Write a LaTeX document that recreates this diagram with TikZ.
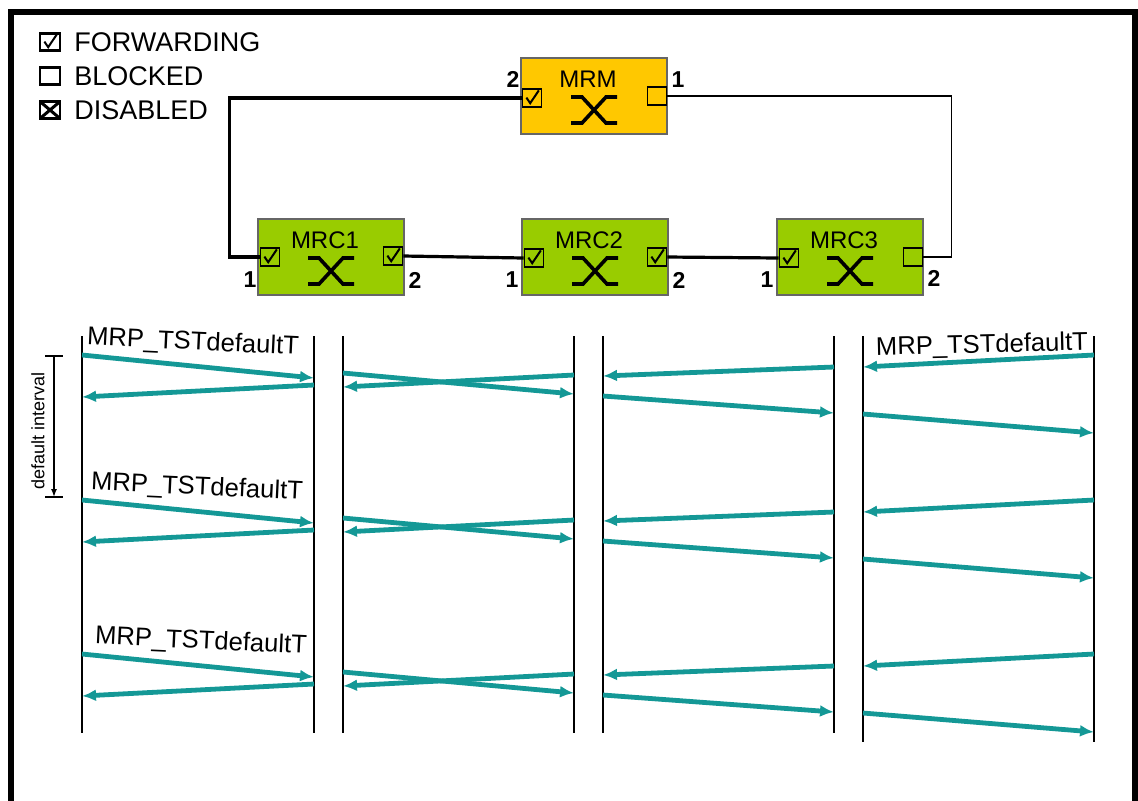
\documentclass[tikz,border=0pt]{standalone}
\usepackage{fontspec}
\setmainfont{Liberation Sans}
\usetikzlibrary{arrows.meta, positioning, calc}
\definecolor{kuningmrm}{RGB}{255,200,0}
\definecolor{hijaumrc}{RGB}{153,204,0}
\definecolor{tosca}{RGB}{20,152,150}

\begin{document}
\begin{tikzpicture}[x=0.5pt, y=-0.5pt,
        every node/.style={font=\fontsize{12}{13}\selectfont},
        sakelar/.style={rectangle, draw=black!60, line width=0.6pt,
                    minimum width=73pt, minimum height=38pt, inner sep=0pt},
        port/.style={rectangle, draw=black, line width=0.9pt,
                    minimum width=9.5pt, minimum height=9pt, inner sep=0pt},
        fwd/.style={port, path picture={
            \draw[line width=1pt]
                 ([shift={(-2.8pt,0.2pt)}]path picture bounding box.center)
              -- ([shift={(-0.9pt,-2.6pt)}]path picture bounding box.center)
              -- ([shift={(3.4pt,3.8pt)}]path picture bounding box.center);}},
        dis/.style={port, path picture={
            \draw[line width=1.5pt]
                 (path picture bounding box.north west) -- (path picture bounding box.south east)
                 (path picture bounding box.north east) -- (path picture bounding box.south west);}},
        nomor/.style={font=\fontsize{11.5}{12}\selectfont\bfseries},
        legenda/.style={font=\fontsize{13.5}{15}\selectfont},
        cincin/.style={line width=1.6pt},
        tipis/.style={line width=0.75pt},
        hidup/.style={line width=0.7pt},
        pesan/.style={-{Latex[length=7pt,width=6pt]}, line width=2.4pt, tosca},
        tst/.style={font=\fontsize{12.8}{14}\selectfont},
        silang/.pic={\draw[line width=1.8pt] (-23,-13) -- (-12,-13) -- (12,13) -- (23,13)
                                              (-23,13) -- (-12,13) -- (12,-13) -- (23,-13);}
    ]
    \useasboundingbox (0,0) rectangle (1138,800);
    \draw[line width=2.6pt] (11,12) rectangle (1135,840);
    \draw[line width=3.2pt] (10,12) -- (1136,12);

    % legend
    \node[fwd, line width=1.2pt, minimum width=10pt, minimum height=8.5pt] (ikfwd) at (50,42) {};
    \node[legenda, right=3pt of ikfwd] (tfwd) {FORWARDING};
    \node[port, line width=1.2pt, minimum width=10pt, minimum height=8.5pt] (ikblk) at (50,76) {};
    \node[legenda, right=3pt of ikblk] (tblk) {BLOCKED};
    \node[dis, line width=1.2pt, minimum width=10pt, minimum height=8.5pt] (ikdis) at (50,110) {};
    \node[legenda, right=3pt of ikdis] (tdis) {DISABLED};

    % ring
    \node[sakelar, fill=kuningmrm] (mrm)  at (594,96)  {};
    \node[sakelar, fill=hijaumrc]  (mrc1) at (331,257) {};
    \node[sakelar, fill=hijaumrc]  (mrc2) at (595,257) {};
    \node[sakelar, fill=hijaumrc]  (mrc3) at (850,257) {};
    \foreach \s/\t in {mrm/MRM, mrc1/MRC1, mrc2/MRC2, mrc3/MRC3} {
        \node (t\s) at ([shift={(-3pt,8.5pt)}]\s.center) {\t};
        \pic at ([yshift=-7pt]\s.center) {silang};
    }
    \node[fwd]  (mrm2)  at (532,98)  {};
    \node[port] (mrm1)  at (657,96)  {};
    \node[fwd]  (mrc11) at (270,257) {};
    \node[fwd]  (mrc12) at (393,256) {};
    \node[fwd]  (mrc21) at (534,258) {};
    \node[fwd]  (mrc22) at (657,257) {};
    \node[fwd]  (mrc31) at (789,258) {};
    \node[port] (mrc32) at (913,257) {};
    \foreach \p/\n/\x/\y in {mrm2/2/513/79, mrm1/1/678/80, mrc11/1/250/280, mrc12/2/415/280,
                             mrc21/1/512/280, mrc22/2/679/280, mrc31/1/767/280, mrc32/2/934/278}
        \node[nomor] (n\p) at (\x,\y) {\n};
    \draw[cincin] (mrm2.west) -| ([xshift=-15pt]mrc11.west) -- (mrc11.west);
    \draw[tipis]  (mrm1.east) -| ([xshift=14pt]mrc32.east) -- (mrc32.east);
    \draw[cincin] (mrc12.east) -- (mrc21.west);
    \draw[cincin] (mrc22.east) -- (mrc31.west);

    % test frames
    \foreach \i/\x/\b in {1/82/733, 2/314/733, 3/343/733, 4/574/733,
                          5/603/733, 6/834/733, 7/863/742, 8/1094/742} {
        \coordinate (h\i) at (\x,0);
        \draw[hidup] (\x,336) -- (\x,\b);
    }
    \draw[line width=1pt] (h1) ++(0,336) -- ++(0,397);
    \foreach \dy in {0,145,299} {
        \draw[pesan] ($(h1)+(0,355+\dy)$) -- ($(h2)+(0,378+\dy)$);
        \draw[pesan] ($(h2)+(0,385+\dy)$) -- ($(h1)+(0,397+\dy)$);
        \draw[pesan] ($(h4)+(0,375+\dy)$) -- ($(h3)+(0,387+\dy)$);
        \draw[pesan] ($(h3)+(0,373+\dy)$) -- ($(h4)+(0,394+\dy)$);
        \draw[pesan] ($(h6)+(0,367+\dy)$) -- ($(h5)+(0,376+\dy)$);
        \draw[pesan] ($(h5)+(0,396+\dy)$) -- ($(h6)+(0,413+\dy)$);
        \draw[pesan] ($(h8)+(0,355+\dy)$) -- ($(h7)+(0,367+\dy)$);
        \draw[pesan] ($(h7)+(0,414+\dy)$) -- ($(h8)+(0,433+\dy)$);
    }
    \foreach \dy/\lx [count=\g] in {0/193, 145/197, 299/201}
        \node[tst, rotate=-2.7] (tst\g) at (\lx,343+\dy) {MRP\_TSTdefaultT};
    \node[tst, rotate=1.3] (tst4) at (982,346) {MRP\_TSTdefaultT};

    % interval
    \coordinate (ivatas) at (54,356);
    \coordinate (ivbawah) at (54,497);
    \draw[hidup, -{Latex[length=4pt,width=3pt]}] (ivatas) -- (ivbawah);
    \draw[hidup] ([xshift=-4.5pt]ivatas) -- ([xshift=4.5pt]ivatas);
    \draw[hidup] ([xshift=-4.5pt]ivbawah) -- ([xshift=4.5pt]ivbawah);
    \node[font=\fontsize{9}{10}\selectfont, rotate=90] (iv) at (38,431) {default interval};
\end{tikzpicture}
\end{document}
